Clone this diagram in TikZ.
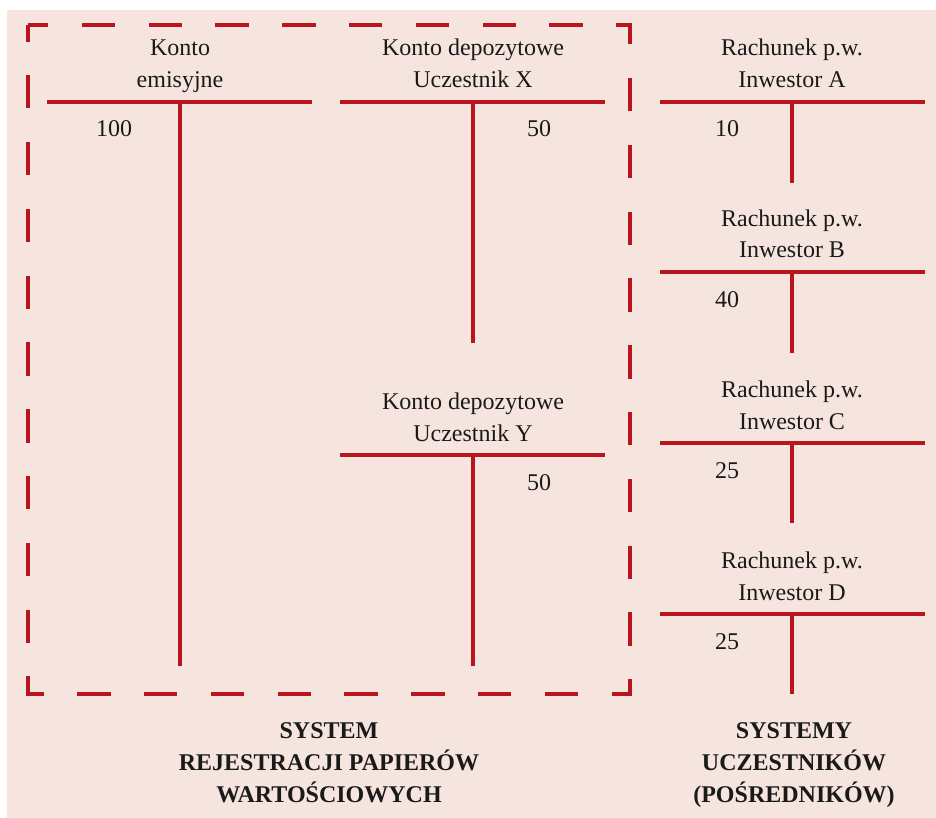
\documentclass[tikz,border=0pt]{standalone}
\usepackage{fontspec}
\setmainfont{Liberation Serif}
\usepackage{tikz}
\definecolor{kBg}{HTML}{F6E5DF}
\definecolor{kRed}{HTML}{B9151F}
\definecolor{kText}{HTML}{1A1A1A}

\begin{document}
\begin{tikzpicture}[
  x=1pt,y=-1pt,
  every node/.style={text=kText,inner sep=0pt},
  konto/.style={draw=kRed,line width=3.2pt},
  tytul/.style={font=\fontsize{24}{32}\selectfont,align=center,anchor=base},
  kwota/.style={font=\fontsize{24}{32}\selectfont,anchor=base},
  opis/.style={font=\bfseries\fontsize{24}{32}\selectfont,align=center,anchor=base},
]
  \useasboundingbox (0,0) rectangle (936,818);
  \fill[kBg] (7,10) rectangle (936,818);

  % system rejestracji (ramka)
  \draw[kRed,line width=3.2pt,dash pattern=on 33.4pt off 33.4pt,dash phase=16.7pt]
    (28,25) rectangle (630,694);

  % konto emisyjne
  \node[tytul] (emT) at (180,88) {Konto\\emisyjne};
  \coordinate (emL) at (47,102);  \coordinate (emR) at (312,102);
  \coordinate (emS) at (180,102); \coordinate (emE) at (180,666);
  \draw[konto] (emL) -- (emR) (emS) -- (emE);
  \node[kwota] (emK) at (114,137) {100};

  % konto depozytowe X
  \node[tytul] (xT) at (473,88) {Konto depozytowe\\Uczestnik X};
  \coordinate (xL) at (340,102);  \coordinate (xR) at (605,102);
  \coordinate (xS) at (473,102);  \coordinate (xE) at (473,343);
  \draw[konto] (xL) -- (xR) (xS) -- (xE);
  \node[kwota] (xK) at (539,137) {50};

  % konto depozytowe Y
  \node[tytul] (yT) at (473,441) {Konto depozytowe\\Uczestnik Y};
  \coordinate (yL) at (340,455);  \coordinate (yR) at (605,455);
  \coordinate (yS) at (473,455);  \coordinate (yE) at (473,666);
  \draw[konto] (yL) -- (yR) (yS) -- (yE);
  \node[kwota] (yK) at (539,490) {50};

  % rachunki inwestorow
  \node[tytul] (aT) at (792,88) {Rachunek p.w.\\Inwestor A};
  \coordinate (aL) at (660,102);  \coordinate (aR) at (925,102);
  \coordinate (aS) at (792,102);  \coordinate (aE) at (792,183);
  \draw[konto] (aL) -- (aR) (aS) -- (aE);
  \node[kwota] (aK) at (727,137) {10};

  \node[tytul] (bT) at (792,258) {Rachunek p.w.\\Inwestor B};
  \coordinate (bL) at (660,272);  \coordinate (bR) at (925,272);
  \coordinate (bS) at (792,272);  \coordinate (bE) at (792,353);
  \draw[konto] (bL) -- (bR) (bS) -- (bE);
  \node[kwota] (bK) at (727,307) {40};

  \node[tytul] (cT) at (792,429) {Rachunek p.w.\\Inwestor C};
  \coordinate (cL) at (660,443);  \coordinate (cR) at (925,443);
  \coordinate (cS) at (792,443);  \coordinate (cE) at (792,523);
  \draw[konto] (cL) -- (cR) (cS) -- (cE);
  \node[kwota] (cK) at (727,478) {25};

  \node[tytul] (dT) at (792,600) {Rachunek p.w.\\Inwestor D};
  \coordinate (dL) at (660,614);  \coordinate (dR) at (925,614);
  \coordinate (dS) at (792,614);  \coordinate (dE) at (792,694);
  \draw[konto] (dL) -- (dR) (dS) -- (dE);
  \node[kwota] (dK) at (727,649) {25};

  % podpisy
  \node[opis] (sysRej) at (329,802) {SYSTEM\\REJESTRACJI PAPIERÓW\\WARTOŚCIOWYCH};
  \node[opis] (sysUcz) at (794,802) {SYSTEMY\\UCZESTNIKÓW\\(POŚREDNIKÓW)};
\end{tikzpicture}
\end{document}
